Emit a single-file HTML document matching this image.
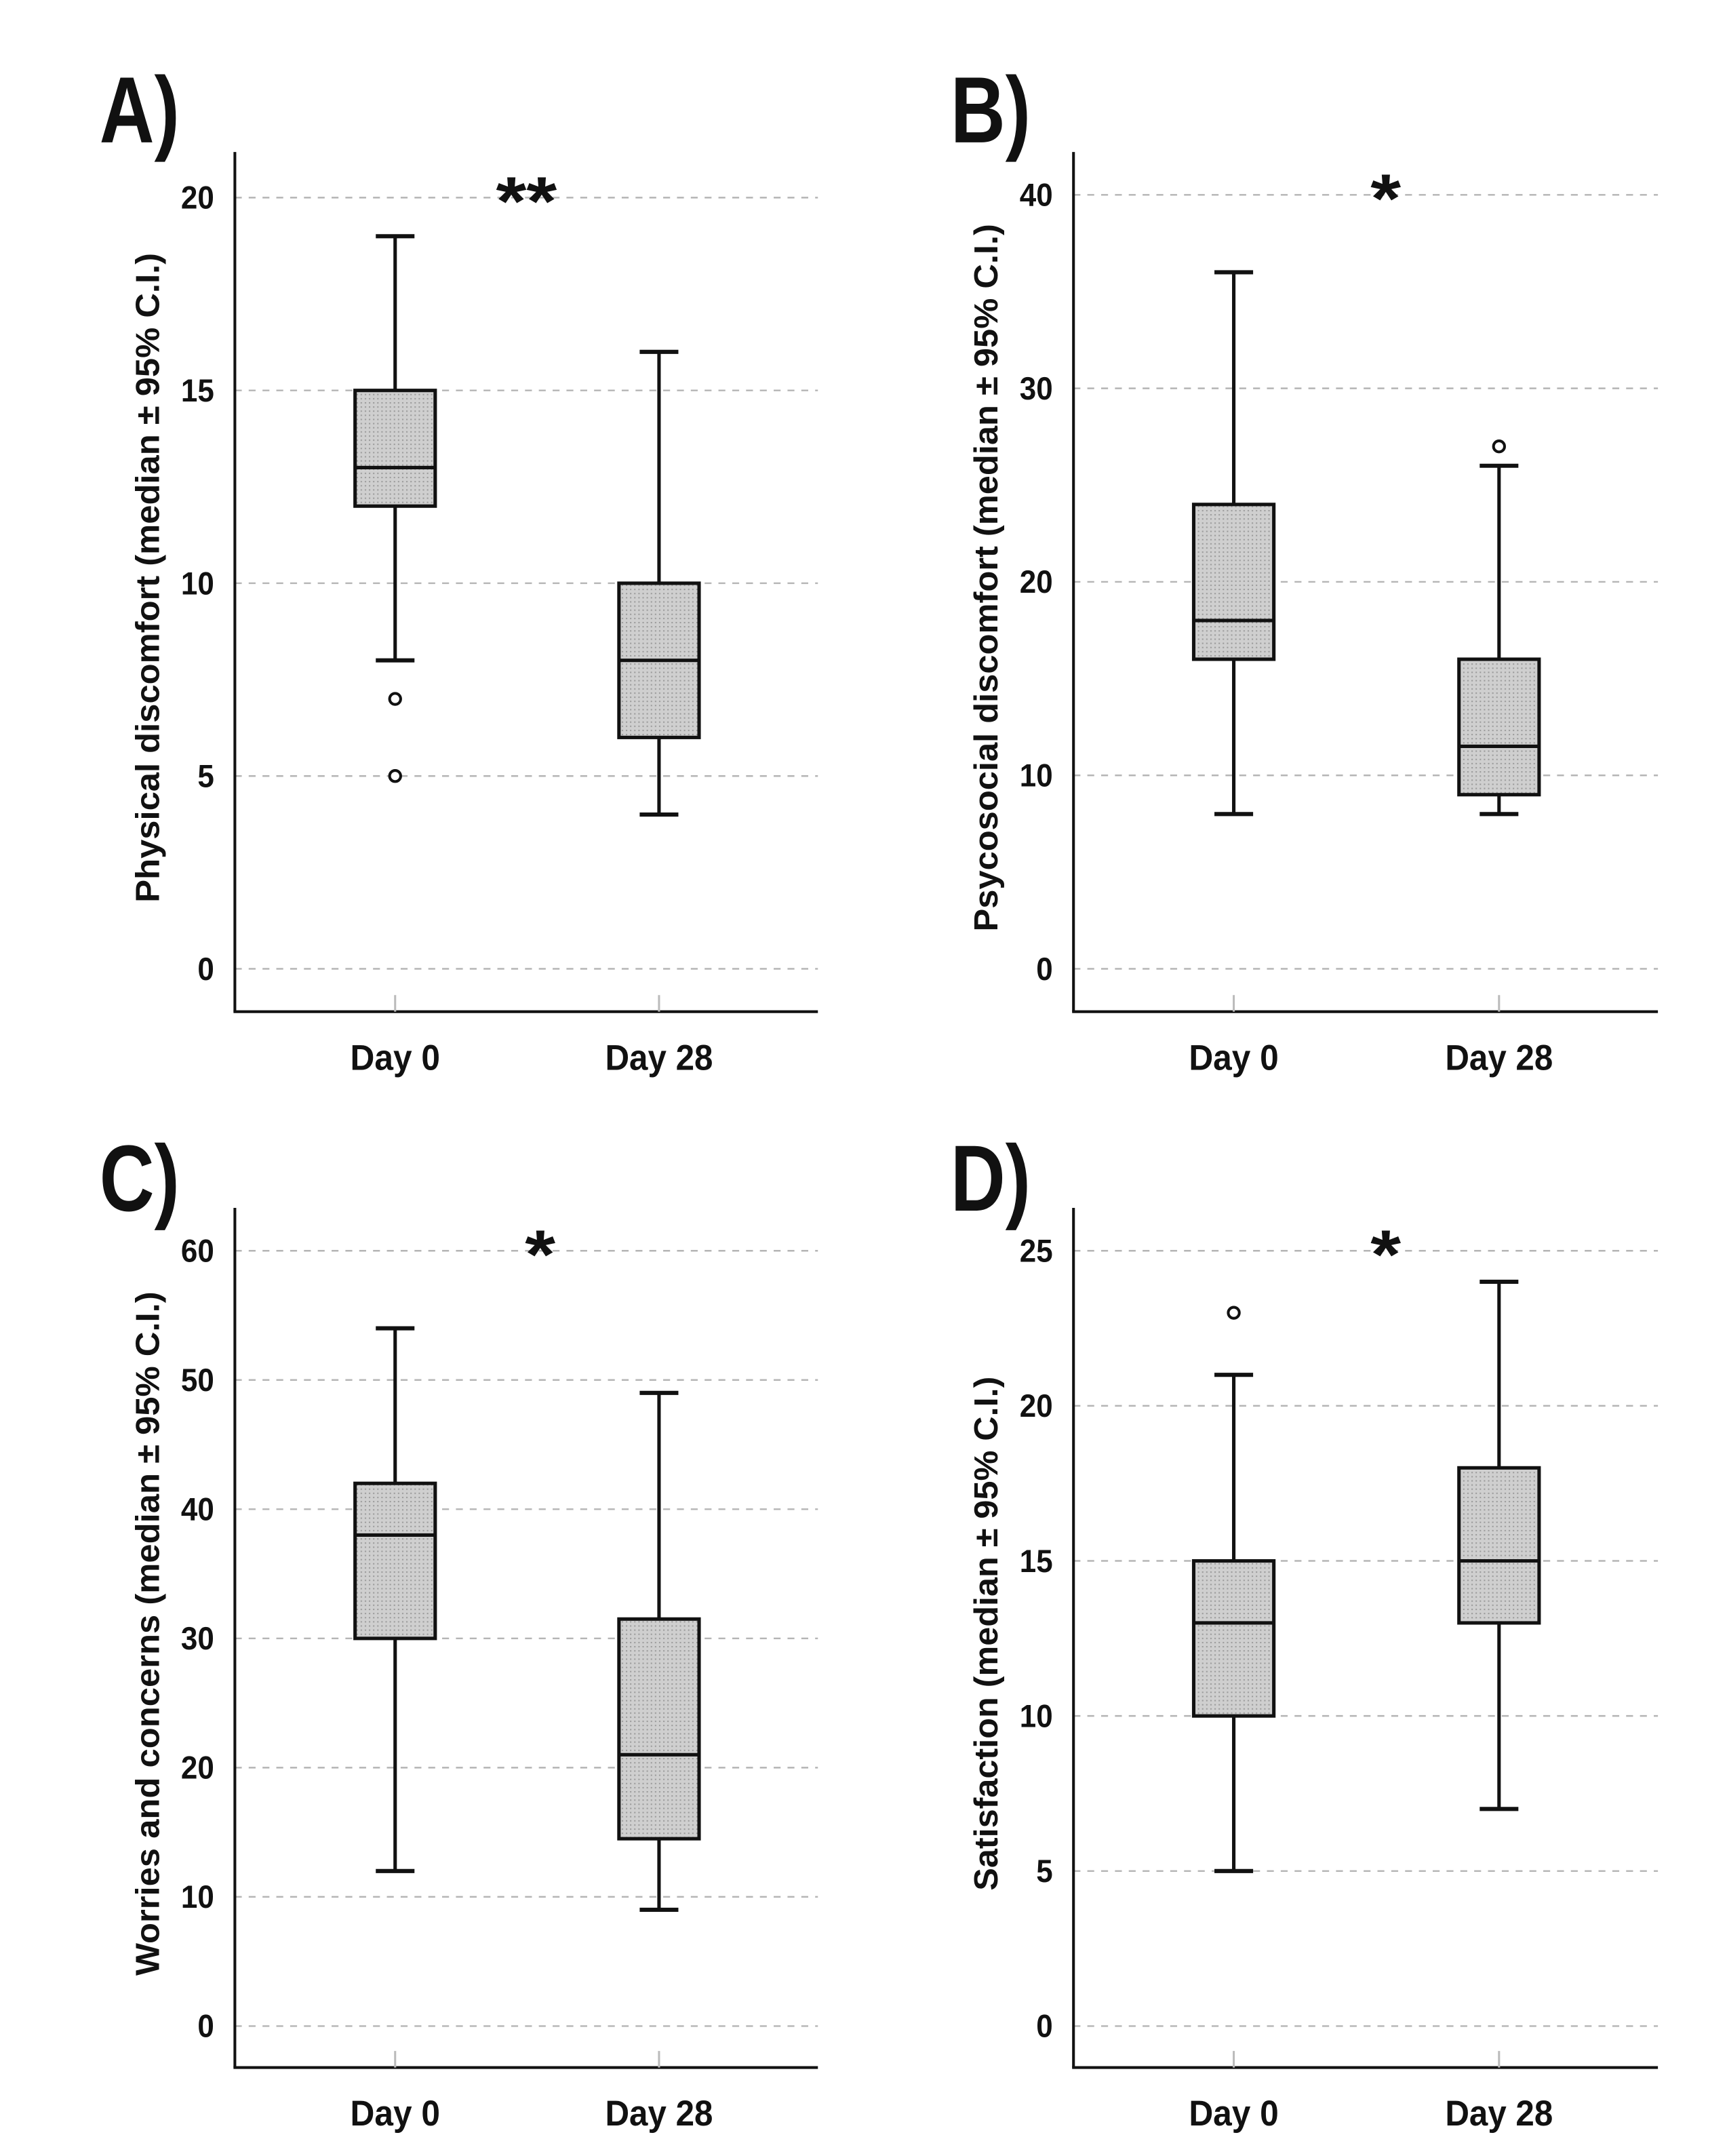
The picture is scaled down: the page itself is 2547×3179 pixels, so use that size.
<!DOCTYPE html>
<html><head><meta charset="utf-8"><title>Box plots</title>
<style>
html,body{margin:0;padding:0;background:#fff;}
svg{display:block;}
text{font-family:"Liberation Sans Narrow","Liberation Sans",Arial,sans-serif;fill:#111;}
</style></head>
<body>
<svg id="fig" width="2547" height="3179" viewBox="0 0 1250 1560" preserveAspectRatio="none" xmlns="http://www.w3.org/2000/svg">
<defs>
<pattern id="dots" width="3" height="3" patternUnits="userSpaceOnUse">
<rect width="3" height="3" fill="#cfcfcf"/>
<rect width="1" height="1" fill="#9a9a9a"/>
</pattern>
</defs>
</svg>
<script>
// ---- data ----
const categories = ["Day 0", "Day 28"];
const panelLetters = ["A)", "B)", "C)", "D)"];
const yTitles = ["Physical discomfort (median ± 95% C.I.)", "Psycosocial discomfort (median ± 95% C.I.)", "Worries and concerns (median ± 95% C.I.)", "Satisfaction (median ± 95% C.I.)"];
const significance = ["**", "*", "*", "*"];
const yTicksA = [0, 5, 10, 15, 20];
const yTicksB = [0, 10, 20, 30, 40];
const yTicksC = [0, 10, 20, 30, 40, 50, 60];
const yTicksD = [0, 5, 10, 15, 20, 25];
// [whiskerLow, q1, median, q3, whiskerHigh]
const boxesA = [[8, 12, 13, 15, 19], [4, 6, 8, 10, 16]];
const boxesB = [[8, 16, 18, 24, 36], [8, 9, 11.5, 16, 26]];
const boxesC = [[12, 30, 38, 42, 54], [9, 14.5, 21, 31.5, 49]];
const boxesD = [[5, 10, 13, 15, 21], [7, 13, 15, 18, 24]];
const outliersA = [[7, 5], []];
const outliersB = [[], [27]];
const outliersC = [[], []];
const outliersD = [[23], []];

// ---- layout ----
const svg = document.getElementById('fig');
const NS = 'http://www.w3.org/2000/svg';
function mk(tag, attrs, parent) {
  const e = document.createElementNS(NS, tag);
  for (const k in attrs) e.setAttribute(k, attrs[k]);
  (parent || svg).appendChild(e);
  return e;
}
const titleLens = [470, 512, 495, 372];
const layouts = [
  {ax: 170, right: 592, top: 110, bottom: 732, topVal: 20, topY: 143, zeroY: 701, x0: 286, x1: 477, lx: 72, ly: 103, ticks: yTicksA, boxes: boxesA, outs: outliersA, sigX: 381},
  {ax: 777, right: 1200, top: 110, bottom: 732, topVal: 40, topY: 141, zeroY: 701, x0: 893, x1: 1085, lx: 688, ly: 103, ticks: yTicksB, boxes: boxesB, outs: outliersB, sigX: 1003},
  {ax: 170, right: 592, top: 874, bottom: 1496, topVal: 60, topY: 905, zeroY: 1466, x0: 286, x1: 477, lx: 72, ly: 876, ticks: yTicksC, boxes: boxesC, outs: outliersC, sigX: 391},
  {ax: 777, right: 1200, top: 874, bottom: 1496, topVal: 25, topY: 905, zeroY: 1466, x0: 893, x1: 1085, lx: 688, ly: 876, ticks: yTicksD, boxes: boxesD, outs: outliersD, sigX: 1003}
];

layouts.forEach((L, pi) => {
  const g = mk('g', {});
  
  
  const yS = v => L.zeroY + (L.topY - L.zeroY) * v / L.topVal;
  const xS = i => i === 0 ? L.x0 : L.x1;

  L.ticks.forEach(t => {
    const gl = mk('line', {x1: L.ax, x2: L.right, y1: yS(t), y2: yS(t), stroke: '#b5b5b5', 'stroke-width': 1.2, 'stroke-dasharray': '5,5'}, g);
    
    
    const s = String(t);
    const tl = mk('text', {x: L.ax - 15, y: yS(t) + 8, 'text-anchor': 'end', 'font-size': 23, 'font-weight': 'bold', textLength: 12 * s.length, lengthAdjust: 'spacingAndGlyphs'}, g);
    tl.textContent = s;
    
    
  });

  const ya = mk('line', {x1: L.ax, x2: L.ax, y1: L.top, y2: L.bottom, stroke: '#111', 'stroke-width': 2}, g);
  
  
  const xa = mk('line', {x1: L.ax - 1, x2: L.right, y1: L.bottom, y2: L.bottom, stroke: '#111', 'stroke-width': 2}, g);
  
  

  const pl = mk('text', {x: L.lx, y: L.ly, 'font-size': 68, 'font-weight': 'bold', textLength: 58, lengthAdjust: 'spacingAndGlyphs'}, g);
  pl.textContent = panelLetters[pi];
  
  

  const midY = (L.top + L.bottom) / 2 - 3;
  const yt = mk('text', {x: 0, y: 0, 'font-size': 24, 'font-weight': 'bold', 'text-anchor': 'middle', textLength: titleLens[pi], lengthAdjust: 'spacingAndGlyphs', transform: `translate(${L.ax - 55},${midY}) rotate(-90)`}, g);
  yt.textContent = yTitles[pi];
  
  

  const sg = mk('text', {x: L.sigX, y: L.topY + 20, 'font-size': 50, 'font-weight': 'bold', 'text-anchor': 'middle', textLength: significance[pi].length * 22, lengthAdjust: 'spacingAndGlyphs'}, g);
  sg.textContent = significance[pi];
  
  

  categories.forEach((c, i) => {
    const x = xS(i);
    const [lo, q1, med, q3, hi] = L.boxes[i];
    const tk = mk('line', {x1: x, x2: x, y1: L.bottom - 12, y2: L.bottom, stroke: '#bbb', 'stroke-width': 1.5}, g);
    
    
    const cl = mk('text', {x: x, y: L.bottom + 42, 'font-size': 26, 'font-weight': 'bold', 'text-anchor': 'middle', textLength: c.length * 13, lengthAdjust: 'spacingAndGlyphs'}, g);
    cl.textContent = c;
    
    

    const wl = mk('line', {x1: x, x2: x, y1: yS(hi), y2: yS(lo), stroke: '#111', 'stroke-width': 2.5}, g);
    
    
    [lo, hi].forEach(v => {
      const cap = mk('line', {x1: x - 14, x2: x + 14, y1: yS(v), y2: yS(v), stroke: '#111', 'stroke-width': 3}, g);
      
      
    });
    const bx = mk('rect', {x: x - 29, y: yS(q3), width: 58, height: yS(q1) - yS(q3), fill: 'url(#dots)', stroke: '#111', 'stroke-width': 2.5}, g);
    
    
    const md = mk('line', {x1: x - 29, x2: x + 29, y1: yS(med), y2: yS(med), stroke: '#111', 'stroke-width': 2.5}, g);
    
    
    L.outs[i].forEach(v => {
      const o = mk('circle', {cx: x, cy: yS(v), r: 4, fill: '#fff', stroke: '#111', 'stroke-width': 2}, g);
      
      
    });
  });
});
</script>
</body></html>
